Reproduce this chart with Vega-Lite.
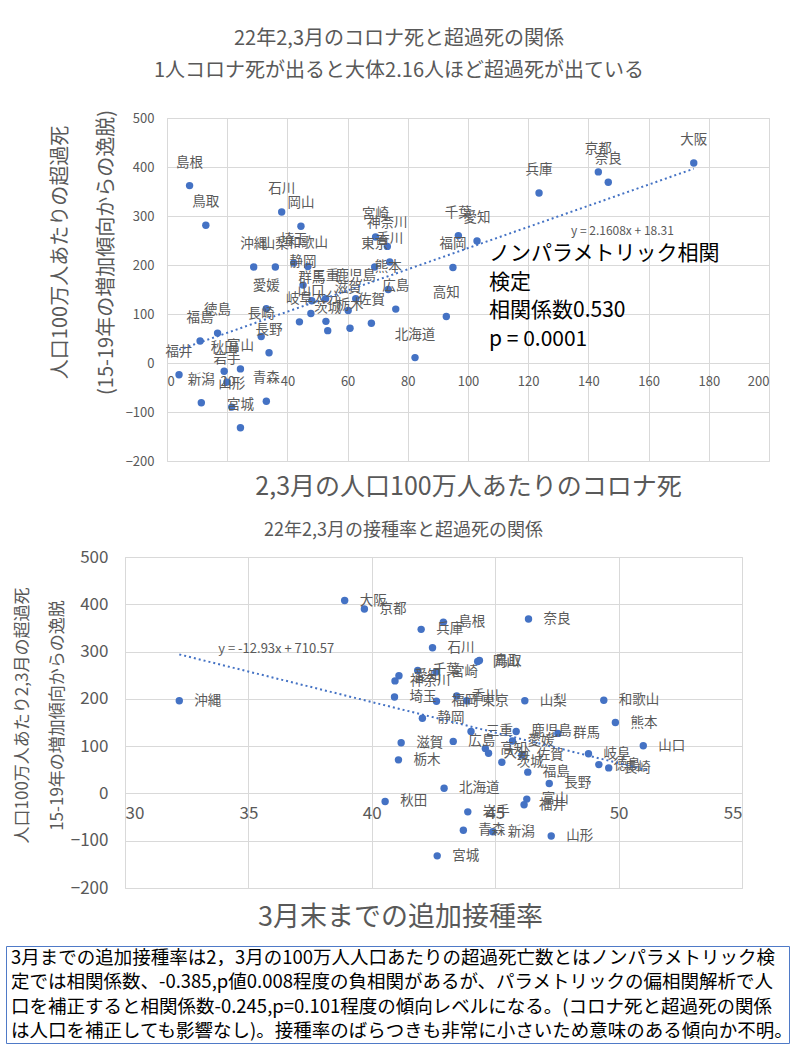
{
  "$schema": "https://vega.github.io/schema/vega-lite/v6.json",
  "background": "white",
  "padding": {"left": 5, "top": 28, "right": 0, "bottom": 0},
  "config": {
    "font": "Noto Sans CJK JP",
    "view": {"stroke": "#d9d9d9"},
    "axis": {
      "domain": false,
      "ticks": false,
      "grid": true,
      "gridColor": "#d9d9d9",
      "labelColor": "#595959",
      "titleColor": "#595959",
      "titleFontWeight": "normal",
      "labelFont": "Noto Sans CJK JP",
      "titleFont": "Noto Sans CJK JP"
    },
    "title": {"font": "Noto Sans CJK JP", "color": "#595959", "fontWeight": "normal"}
  },
  "datasets": {
    "pref": [
      {"name": "北海道", "covid": 82.4, "excess": 11, "vax": 42.93},
      {"name": "青森", "covid": 33.0, "excess": -78, "vax": 43.71},
      {"name": "岩手", "covid": 19.9, "excess": -39, "vax": 43.89},
      {"name": "宮城", "covid": 24.4, "excess": -132, "vax": 42.65},
      {"name": "秋田", "covid": 19.0, "excess": -17, "vax": 40.54},
      {"name": "山形", "covid": 21.5, "excess": -90, "vax": 47.27},
      {"name": "福島", "covid": 11.0, "excess": 45, "vax": 46.32},
      {"name": "茨城", "covid": 53.4, "excess": 66, "vax": 45.27},
      {"name": "栃木", "covid": 60.8, "excess": 71, "vax": 41.08},
      {"name": "群馬", "covid": 48.1, "excess": 127, "vax": 47.54},
      {"name": "埼玉", "covid": 42.1, "excess": 204, "vax": 40.92},
      {"name": "千葉", "covid": 96.8, "excess": 260, "vax": 41.86},
      {"name": "東京", "covid": 69.0, "excess": 196, "vax": 43.85},
      {"name": "神奈川", "covid": 73.2, "excess": 238, "vax": 40.94},
      {"name": "新潟", "covid": 11.4, "excess": -81, "vax": 44.90},
      {"name": "富山", "covid": 24.4, "excess": -12, "vax": 46.28},
      {"name": "石川", "covid": 38.1, "excess": 308, "vax": 42.46},
      {"name": "福井", "covid": 4.0, "excess": -24, "vax": 46.17},
      {"name": "山梨", "covid": 36.0, "excess": 196, "vax": 46.20},
      {"name": "長野", "covid": 33.9, "excess": 21, "vax": 47.19},
      {"name": "岐阜", "covid": 44.0, "excess": 84, "vax": 48.78},
      {"name": "静岡", "covid": 45.2, "excess": 159, "vax": 42.05},
      {"name": "愛知", "covid": 103.0, "excess": 249, "vax": 41.10},
      {"name": "三重", "covid": 52.7, "excess": 131, "vax": 44.02},
      {"name": "滋賀", "covid": 60.2, "excess": 107, "vax": 41.19},
      {"name": "京都", "covid": 143.3, "excess": 390, "vax": 39.70},
      {"name": "大阪", "covid": 175.0, "excess": 408, "vax": 38.90},
      {"name": "兵庫", "covid": 123.6, "excess": 347, "vax": 42.00},
      {"name": "奈良", "covid": 146.6, "excess": 369, "vax": 46.35},
      {"name": "和歌山", "covid": 46.8, "excess": 197, "vax": 49.40},
      {"name": "鳥取", "covid": 12.9, "excess": 281, "vax": 44.36},
      {"name": "島根", "covid": 7.5, "excess": 362, "vax": 42.90},
      {"name": "岡山", "covid": 44.5, "excess": 279, "vax": 44.29},
      {"name": "広島", "covid": 76.0, "excess": 110, "vax": 43.30},
      {"name": "山口", "covid": 47.8, "excess": 101, "vax": 51.00},
      {"name": "徳島", "covid": 16.8, "excess": 61, "vax": 49.20},
      {"name": "香川", "covid": 74.0, "excess": 206, "vax": 43.44},
      {"name": "愛媛", "covid": 33.0, "excess": 111, "vax": 45.70},
      {"name": "高知", "covid": 92.8, "excess": 95, "vax": 44.60},
      {"name": "福岡", "covid": 95.0, "excess": 195, "vax": 42.62},
      {"name": "佐賀", "covid": 67.9, "excess": 81, "vax": 46.08},
      {"name": "長崎", "covid": 31.3, "excess": 54, "vax": 49.60},
      {"name": "熊本", "covid": 73.5, "excess": 150, "vax": 49.87},
      {"name": "大分", "covid": 52.8, "excess": 85, "vax": 44.73},
      {"name": "宮崎", "covid": 69.3, "excess": 257, "vax": 42.60},
      {"name": "鹿児島", "covid": 62.7, "excess": 131, "vax": 45.85},
      {"name": "沖縄", "covid": 28.8, "excess": 196, "vax": 32.20}
    ],
    "trend1": [
      {"covid": 4, "excess": 27},
      {"covid": 175, "excess": 396.5}
    ],
    "trend2": [
      {"vax": 32.2, "excess": 294},
      {"vax": 51.2, "excess": 48.6}
    ]
  },
  "spacing": 21,
  "vconcat": [
    {
      "spacing": 0,
      "hconcat": [
        {"width": 43, "height": 10, "data": {"values": []}, "mark": "point", "view": {"stroke": null}},
        {
          "width": 602,
          "height": 343,
          "title": {
            "text": ["22年2,3月のコロナ死と超過死の関係", "1人コロナ死が出ると大体2.16人ほど超過死が出ている"],
            "fontSize": 20,
            "lineHeight": 32,
            "frame": "group",
            "anchor": "middle",
            "dx": -69,
            "offset": 29
          },
          "encoding": {
            "x": {
              "field": "covid",
              "type": "quantitative",
              "scale": {"domain": [0, 200], "nice": false},
              "axis": {
                "values": [0, 20, 40, 60, 80, 100, 120, 140, 160, 180, 200],
                "offset": -98,
                "labelPadding": 12,
                "labelFontSize": 13,
                "title": "2,3月の人口100万人あたりのコロナ死",
                "titleFontSize": 25,
                "titleY": 111.5,
                "titleBaseline": "top"
              }
            },
            "y": {
              "field": "excess",
              "type": "quantitative",
              "scale": {"domain": [-200, 500], "nice": false},
              "axis": {
                "values": [-200, -100, 0, 100, 200, 300, 400, 500],
                "labelPadding": 13,
                "labelFontSize": 13,
                "title": ["人口100万人あたりの超過死", "(15-19年の増加傾向からの逸脱)"],
                "titleFontSize": 20,
                "titleLineHeight": 46,
                "titleAngle": 270,
                "titleBaseline": "bottom",
                "titleAlign": "center",
                "titleX": -97,
                "titleY": 134
              }
            }
          },
          "layer": [
            {
              "data": {"name": "pref"},
              "mark": {"type": "circle", "size": 55, "color": "#4472C4", "opacity": 1}
            },
            {
              "data": {"name": "pref"},
              "mark": {"type": "text", "dy": -23, "baseline": "middle", "fontSize": 13.5, "color": "#595959"},
              "encoding": {"text": {"field": "name"}}
            },
            {
              "data": {"name": "trend1"},
              "mark": {"type": "line", "color": "#4472C4", "strokeDash": [2, 3], "strokeWidth": 2}
            },
            {
              "data": {"values": [{"covid": 134.2, "excess": 269, "label": "y = 2.1608x + 18.31"}]},
              "mark": {"type": "text", "align": "left", "baseline": "middle", "fontSize": 12, "color": "#595959"},
              "encoding": {"text": {"field": "label"}}
            },
            {
              "data": {"values": [{"covid": 107, "excess": 244, "label": ["ノンパラメトリック相関", "検定", "相関係数0.530", "p = 0.0001"]}]},
              "mark": {"type": "text", "align": "left", "baseline": "top", "fontSize": 21, "lineHeight": 28.5, "color": "#000000"},
              "encoding": {"text": {"field": "label"}}
            }
          ]
        }
      ]
    },
    {
      "spacing": 14,
      "vconcat": [
        {
          "spacing": 0,
          "hconcat": [
            {"width": 6, "height": 10, "data": {"values": []}, "mark": "point", "view": {"stroke": null}},
            {
              "width": 617,
              "height": 331,
              "title": {
                "text": "22年2,3月の接種率と超過死の関係",
                "fontSize": 18,
                "frame": "group",
                "anchor": "middle",
                "dx": -30,
                "offset": 8
              },
              "encoding": {
                "x": {
                  "field": "vax",
                  "type": "quantitative",
                  "scale": {"domain": [30, 55], "nice": false, "zero": false},
                  "axis": {
                    "values": [30, 35, 40, 45, 50, 55],
                    "offset": -94.5,
                    "labelPadding": 12,
                    "labelFontSize": 17,
                    "title": "3月末までの追加接種率",
                    "titleFontSize": 27,
                    "titleX": 275,
                    "titleY": 111,
                    "titleBaseline": "top",
                    "titleAlign": "center"
                  }
                },
                "y": {
                  "field": "excess",
                  "type": "quantitative",
                  "scale": {"domain": [-200, 500], "nice": false},
                  "axis": {
                    "values": [-200, -100, 0, 100, 200, 300, 400, 500],
                    "labelPadding": 17,
                    "labelFontSize": 17,
                    "title": ["人口100万人あたり2,3月の超過死", "15-19年の増加傾向からの逸脱"],
                    "titleFontSize": 17,
                    "titleLineHeight": 35,
                    "titleAngle": 270,
                    "titleBaseline": "bottom",
                    "titleAlign": "center",
                    "titleX": -94,
                    "titleY": 158
                  }
                }
              },
              "layer": [
                {
                  "data": {"name": "pref"},
                  "mark": {"type": "circle", "size": 55, "color": "#4472C4", "opacity": 1}
                },
                {
                  "data": {"name": "pref"},
                  "mark": {"type": "text", "dx": 15, "align": "left", "baseline": "middle", "fontSize": 13.5, "color": "#595959"},
                  "encoding": {"text": {"field": "name"}}
                },
                {
                  "data": {"name": "trend2"},
                  "mark": {"type": "line", "color": "#4472C4", "strokeDash": [2, 3], "strokeWidth": 2}
                },
                {
                  "data": {"values": [{"vax": 33.78, "excess": 305.5, "label": "y = -12.93x + 710.57"}]},
                  "mark": {"type": "text", "align": "left", "baseline": "middle", "fontSize": 13, "color": "#595959"},
                  "encoding": {"text": {"field": "label"}}
                }
              ]
            }
          ]
        },
        {
          "width": 783,
          "height": 97,
          "view": {"stroke": "#4f7ac7"},
          "data": {"values": [{"lines": [
            "3月までの追加接種率は2，3月の100万人人口あたりの超過死亡数とはノンパラメトリック検",
            "定では相関係数、-0.385,p値0.008程度の負相関があるが、パラメトリックの偏相関解析で人",
            "口を補正すると相関係数-0.245,p=0.101程度の傾向レベルになる。(コロナ死と超過死の関係",
            "は人口を補正しても影響なし)。接種率のばらつきも非常に小さいため意味のある傾向か不明。"
          ]}]},
          "mark": {"type": "text", "align": "left", "baseline": "top", "dx": 5, "dy": 3, "fontSize": 18.5, "lineHeight": 24.3, "color": "#000000"},
          "encoding": {
            "x": {"datum": 0, "type": "quantitative", "scale": {"domain": [0, 1]}, "axis": null},
            "y": {"datum": 1, "type": "quantitative", "scale": {"domain": [0, 1]}, "axis": null},
            "text": {"field": "lines"}
          }
        }
      ]
    }
  ]
}
